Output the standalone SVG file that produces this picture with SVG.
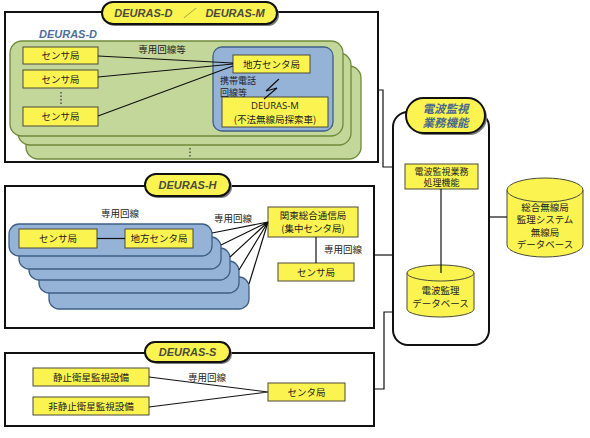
<svg xmlns="http://www.w3.org/2000/svg" width="590" height="438" viewBox="0 0 590 438">
<defs>
<style>
.frame{fill:#fff;stroke:#111;stroke-width:2}
.pill{fill:#fbf450;stroke:#111;stroke-width:2}
.shadow{fill:#7a7a7a}
.ptxt{font-family:"Liberation Sans","Noto Sans CJK JP",sans-serif;font-size:11px;font-weight:bold;font-style:italic;fill:#4b4b3c;text-anchor:middle}
.ptxtj{font-family:"Noto Sans CJK JP",sans-serif;font-size:11.5px;font-weight:bold;font-style:italic;fill:#4c6a8c;text-anchor:middle}
.green{fill:#c4d79b;stroke:#6f8a3a;stroke-width:1.3}
.blue{fill:#95b3d7;stroke:#3f5f86;stroke-width:1.3}
.box{fill:#fbf450;stroke:#4a4a3a;stroke-width:1}
.t{font-family:"Noto Sans CJK JP",sans-serif;font-size:9.5px;fill:#222;text-anchor:middle}
.s{font-size:9px}
.tl{font-family:"Noto Sans CJK JP",sans-serif;font-size:9px;fill:#222}
.tlat{font-family:"Open Sans","Noto Sans CJK JP",sans-serif;font-size:9.5px;fill:#222;text-anchor:middle}
.line{fill:none;stroke:#111;stroke-width:1.2}
.dots{fill:none;stroke:#333;stroke-width:1.2;stroke-dasharray:1.5 2}
</style>
</defs>

<!-- DEURAS-D / M frame -->
<g id="frame-d">
<rect class="frame" x="5" y="12" width="373" height="150"/>
<rect class="shadow" x="104" y="4" width="175" height="22" rx="11"/>
<rect class="pill" x="102" y="2" width="175" height="22" rx="11"/>
<text class="ptxt" x="189.5" y="17">DEURAS-D　／　DEURAS-M</text>
<text class="ptxt" x="68" y="38" style="fill:#4f6f9a">DEURAS-D</text>
</g>
<g id="d-stack">
<rect class="green" x="26" y="66" width="335" height="93" rx="12"/>
<rect class="green" x="18" y="53" width="333" height="92" rx="12"/>
<rect class="green" x="10" y="41" width="333" height="95" rx="12"/>
<path class="dots" d="M190 148 V158"/>
</g>
<g id="d-center-area">
<rect class="blue" x="213" y="47" width="120" height="84" rx="9"/>
</g>
<g id="d-sensor1"><rect class="box" x="23" y="47" width="75" height="17"/><text class="t" x="60.5" y="59">センサ局</text></g>
<g id="d-sensor2"><rect class="box" x="23" y="70" width="75" height="18"/><text class="t" x="60.5" y="82.5">センサ局</text></g>
<path class="dots" d="M61 92 V104"/>
<g id="d-sensor3"><rect class="box" x="23" y="107" width="75" height="19"/><text class="t" x="60.5" y="120">センサ局</text></g>
<g id="d-local"><rect class="box" x="233" y="55" width="77" height="18"/><text class="t" x="271.5" y="67.5">地方センタ局</text></g>
<g id="d-mobile"><rect class="box" x="222" y="97" width="106" height="30"/><text class="tlat" x="275" y="109">DEURAS-M</text><text class="t" x="275" y="122.5">(不法無線局探索車)</text></g>

<!-- DEURAS-H frame -->
<g id="frame-h">
<rect class="frame" x="5" y="186" width="369" height="142"/>
<rect class="shadow" x="147" y="176" width="85" height="22" rx="11"/>
<rect class="pill" x="145" y="174" width="85" height="22" rx="11"/>
<text class="ptxt" x="187.5" y="189">DEURAS-H</text>
</g>
<g id="h-stack">
<rect class="blue" x="49" y="277" width="200" height="32" rx="10"/>
<rect class="blue" x="39" y="261" width="200" height="32" rx="10"/>
<rect class="blue" x="29" y="248" width="201" height="32" rx="10"/>
<rect class="blue" x="19" y="237" width="202" height="32" rx="10"/>
<rect class="blue" x="9" y="224" width="203" height="32" rx="10"/>
</g>
<g id="h-sensor"><rect class="box" x="19" y="229" width="78" height="19"/><text class="t" x="58" y="242">センサ局</text></g>
<g id="h-local"><rect class="box" x="125" y="229" width="68" height="19"/><text class="t" x="159" y="242">地方センタ局</text></g>
<g id="h-kanto"><rect class="box" x="268" y="207" width="90" height="30"/><text class="t" x="313" y="218.5">関東総合通信局</text><text class="t" x="313" y="232">(集中センタ局)</text></g>
<g id="h-sensor2"><rect class="box" x="278" y="263" width="76" height="18"/><text class="t" x="316" y="275.5">センサ局</text></g>

<!-- DEURAS-S frame -->
<g id="frame-s">
<rect class="frame" x="5" y="353" width="369" height="73"/>
<rect class="shadow" x="147" y="344" width="85" height="20" rx="10"/>
<rect class="pill" x="145" y="342" width="85" height="20" rx="10"/>
<text class="ptxt" x="187.5" y="356">DEURAS-S</text>
</g>
<g id="s-geo"><rect class="box" x="33" y="368" width="116" height="18"/><text class="t" x="91" y="380.5">静止衛星監視設備</text></g>
<g id="s-nongeo"><rect class="box" x="33" y="397" width="116" height="18"/><text class="t" x="91" y="409.5">非静止衛星監視設備</text></g>
<g id="s-center"><rect class="box" x="268" y="383" width="77" height="18"/><text class="t" x="306.5" y="395.5">センタ局</text></g>

<!-- monitoring function -->
<g id="func">
<rect class="frame" x="393" y="112" width="96" height="233" rx="15"/>
<rect class="shadow" x="408" y="100" width="79" height="35" rx="17.5"/>
<rect class="pill" x="406" y="98" width="79" height="35" rx="17.5"/>
<text class="ptxtj" x="445.5" y="112.5">電波監視</text>
<text class="ptxtj" x="445.5" y="127">業務機能</text>
</g>
<g id="func-proc"><rect class="box" x="405" y="164" width="73" height="25"/><text class="t s" x="441.5" y="174.5">電波監視業務</text><text class="t s" x="441.5" y="186">処理機能</text></g>
<g id="func-db">
<path class="box" d="M407 273 V309 A33.5 8 0 0 0 474 309 V273"/>
<ellipse class="box" cx="440.5" cy="273" rx="33.5" ry="8"/>
<text class="t" x="440.5" y="294">電波監理</text>
<text class="t" x="440.5" y="307">データベース</text>
</g>
<g id="ext-db">
<path class="box" d="M507 190 V245 A38 12 0 0 0 583 245 V190"/>
<ellipse class="box" cx="545" cy="190" rx="38" ry="12"/>
<text class="t" x="545" y="210.5">総合無線局</text>
<text class="t" x="545" y="223">監理システム</text>
<text class="t" x="545" y="235.5">無線局</text>
<text class="t" x="545" y="248">データベース</text>
</g>

<!-- connectors -->
<g id="connectors">
<path class="line" d="M98 56 L233 63 M98 77 L233 64 M98 116 L233 66"/>
<path class="line" d="M279 79 L266 91 L277 88 L264 99"/>
<path class="line" d="M97 238.5 H125"/>
<path class="line" d="M268 222 L212 233 M268 222 L221 245 M268 222 L230 257 M268 222 L239 270 M268 222 L249 284"/>
<path class="line" d="M316 237 V263"/>
<path class="line" d="M149 377 L268 392 M149 407 L268 392"/>
<path class="line" d="M441 189 V273"/>
<path class="line" d="M489 217 H507"/>
<path class="line" d="M378 90 H383 V167 H393"/>
<path class="line" d="M374 255 H393"/>
<path class="line" d="M374 389 H384 V312 H393"/>
</g>

<!-- labels -->
<text class="t" x="162" y="53">専用回線等</text>
<text class="tl" x="220" y="84">携帯電話</text>
<text class="tl" x="220" y="95.5">回線等</text>
<text class="t" x="120" y="217">専用回線</text>
<text class="t" x="233" y="222">専用回線</text>
<text class="t" x="343" y="253">専用回線</text>
<text class="t" x="207" y="381">専用回線</text>
</svg>
